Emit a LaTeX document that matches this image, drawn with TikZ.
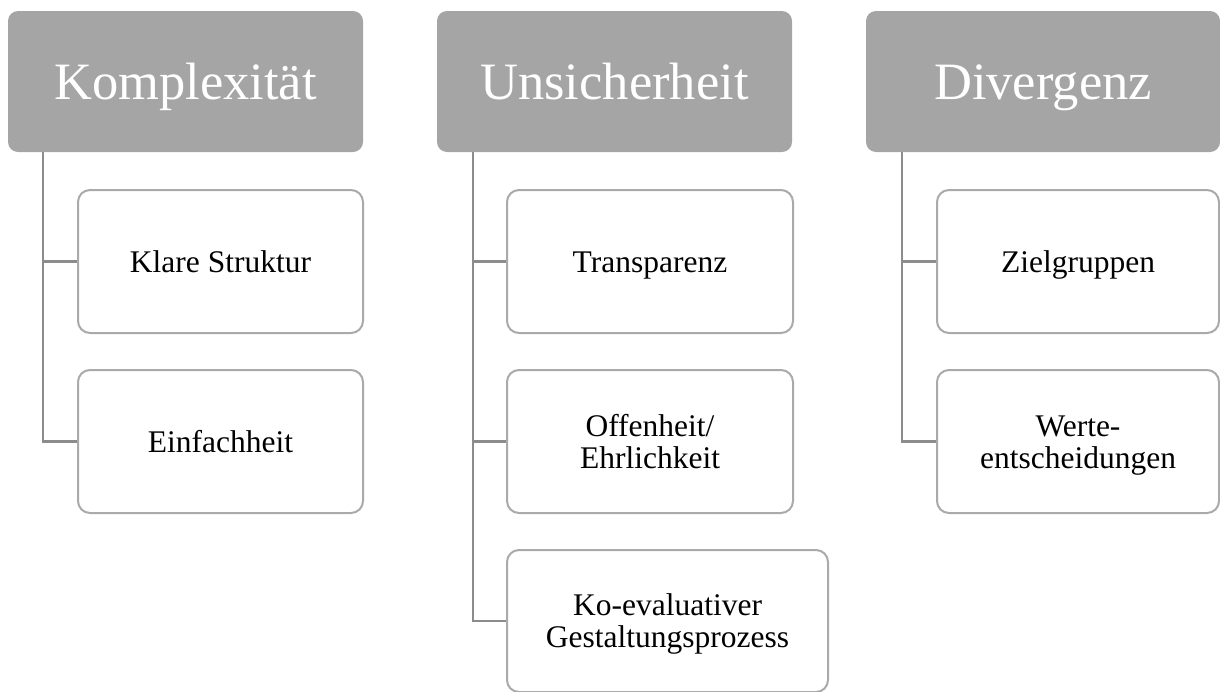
\documentclass[tikz,border=0pt]{standalone}
\usepackage{fontspec}
\setmainfont{Liberation Serif}
\definecolor{hdrgray}{RGB}{165,165,165}
\definecolor{boxgray}{RGB}{170,170,170}
\definecolor{linegray}{RGB}{140,140,140}
\newcommand\cst{\rule[-8pt]{0pt}{37pt}}
\newcommand\ctop{\rule{0pt}{29pt}}
\newcommand\cbot{\rule[-8pt]{0pt}{8pt}}
\newcommand\hst{\rule[-12pt]{0pt}{60pt}}
\begin{document}
\begin{tikzpicture}[x=1pt,y=-1pt,
  header/.style={draw=none, fill=hdrgray, rounded corners=10pt, minimum width=355pt, minimum height=141pt, inner sep=0pt, text=white, font=\fontsize{52.5}{55}\selectfont},
  child/.style={draw=boxgray, line width=2pt, fill=white, rounded corners=12pt, minimum height=143pt, inner sep=0pt, align=center, font=\fontsize{31.5}{32}\selectfont},
  conn/.style={draw=linegray, line width=2.5pt}]
\useasboundingbox (0,0) rectangle (1220,691);
% headers
\node[header] (h1) at (185.5,81.5) {\hst Komplexität};
\node[header] (h2) at (614.5,81.5) {\hst Unsicherheit};
\node[header, minimum width=354pt] (h3) at (1043,81.5) {\hst Divergenz};
% children column 1
\node[child, minimum width=285pt] (c1a) at (220.5,261.5) {\cst Klare Struktur};
\node[child, minimum width=285pt] (c1b) at (220.5,441.5) {\cst Einfachheit};
% children column 2
\node[child, minimum width=286pt] (c2a) at (650,261.5) {\cst Transparenz};
\node[child, minimum width=286pt] (c2b) at (650,441.5) {\ctop Offenheit/\\\cbot Ehrlichkeit};
\node[child, minimum width=321pt, minimum height=142pt] (c2c) at (667.5,621) {\ctop Ko-evaluativer\\\cbot Gestaltungsprozess};
% children column 3
\node[child, minimum width=282pt] (c3a) at (1078,261.5) {\cst Zielgruppen};
\node[child, minimum width=282pt] (c3b) at (1078,441.5) {\ctop Werte-\\\cbot entscheidungen};
% connector origins
\coordinate (v1) at (43,152);
\coordinate (v2) at (473,152);
\coordinate (v3) at (902,152);
% connectors
\draw[conn] (v1) |- (c1b.west);
\draw[conn] (v1 |- c1a.west) -- (c1a.west);
\draw[conn] (v2) |- (c2c.west);
\draw[conn] (v2 |- c2a.west) -- (c2a.west);
\draw[conn] (v2 |- c2b.west) -- (c2b.west);
\draw[conn] (v3) |- (c3b.west);
\draw[conn] (v3 |- c3a.west) -- (c3a.west);
\end{tikzpicture}
\end{document}
